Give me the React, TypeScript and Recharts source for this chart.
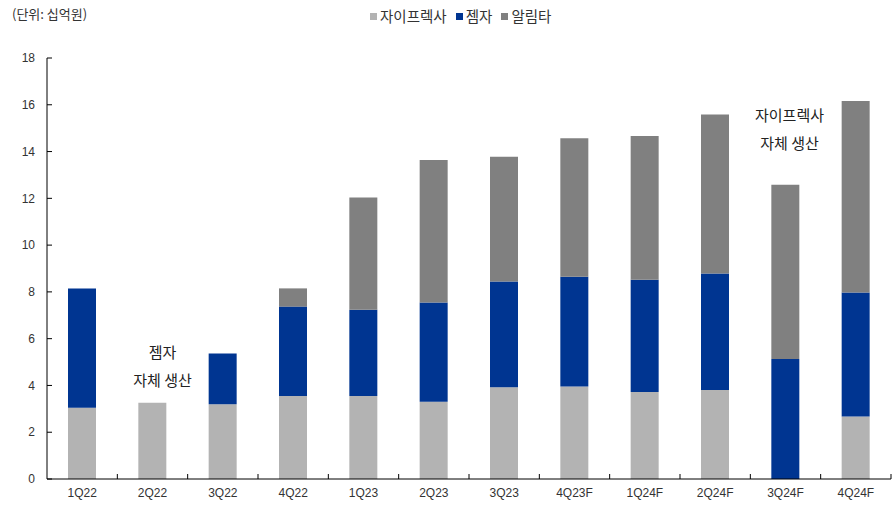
import React from 'react';
import { BarChart, Bar, XAxis, YAxis, ReferenceDot, Label } from 'recharts';

const categories = ['1Q22', '2Q22', '3Q22', '4Q22', '1Q23', '2Q23', '3Q23', '4Q23F', '1Q24F', '2Q24F', '3Q24F', '4Q24F'];
const zyprexa = [3.05, 3.26, 3.2, 3.55, 3.55, 3.3, 3.92, 3.95, 3.72, 3.8, 0, 2.67];
const gemzar = [5.1, 0, 2.17, 3.82, 3.69, 4.25, 4.52, 4.7, 4.8, 4.99, 5.13, 5.3];
const alimta = [0, 0, 0, 0.78, 4.8, 6.09, 5.34, 5.92, 6.14, 6.79, 7.45, 8.19];
const seriesNames = ['자이프렉사', '젬자', '알림타'];
const seriesColors = ['#b3b3b3', '#003591', '#808080'];
const yTicks = [0, 2, 4, 6, 8, 10, 12, 14, 16, 18];
const unitLabel = '(단위: 십억원)';

const WIDTH = 893;
const HEIGHT = 505;
const MARGIN = { top: 58, right: 2, bottom: 0, left: 0 };
const Y_WIDTH = 47;
const X_HEIGHT = 26;
const BAND = (WIDTH - MARGIN.left - MARGIN.right - Y_WIDTH) / categories.length;

const data = categories.map((c, i) => ({
  name: c,
  zyprexa: zyprexa[i],
  gemzar: gemzar[i],
  alimta: alimta[i],
}));

const NUM_FONT = '"Liberation Sans", Arial, sans-serif';
const KR_FONT = '"Noto Sans CJK KR", "Noto Sans", sans-serif';

const XTick = (props: any) => {
  const { x, y, payload } = props;
  const axisY = y - 9;
  return (
    <g>
      <line x1={x + BAND / 2} x2={x + BAND / 2} y1={axisY} y2={axisY - 5} stroke="#000" strokeWidth={1} />
      <text x={x} y={y} dy="0.71em" textAnchor="middle" fontSize={12} fill="#333" fontFamily={NUM_FONT}>
        {payload.value}
      </text>
    </g>
  );
};

const YTick = (props: any) => {
  const { x, y, payload } = props;
  return (
    <g>
      <line x1={x + 12} x2={x + 17} y1={y} y2={y} stroke="#000" strokeWidth={1} />
      <text x={x} y={y} dy="0.35em" textAnchor="end" fontSize={12} fill="#333" fontFamily={NUM_FONT}>
        {payload.value}
      </text>
    </g>
  );
};

const annStyle = { fontSize: 15, fill: '#222', fontFamily: KR_FONT } as any;

export default function App() {
  return (
    <div style={{ position: 'absolute', left: 0, top: 0, width: WIDTH, height: HEIGHT, background: '#fff' }}>
      <div
        style={{
          position: 'absolute',
          left: 12,
          top: 5,
          fontSize: 13,
          color: '#333',
          fontFamily: KR_FONT,
          lineHeight: '18px',
        }}
      >
        {unitLabel}
      </div>
      <div
        style={{
          position: 'absolute',
          left: 370,
          top: 6,
          display: 'flex',
          alignItems: 'center',
          fontSize: 14.5,
          color: '#333',
          fontFamily: KR_FONT,
          lineHeight: '20px',
          whiteSpace: 'nowrap',
        }}
      >
        {seriesNames.map((n, i) => (
          <span key={n} style={{ display: 'flex', alignItems: 'center', marginRight: 9 }}>
            <span style={{ display: 'inline-block', width: 7, height: 7, background: seriesColors[i], marginRight: 3 }} />
            {n}
          </span>
        ))}
      </div>
      <BarChart width={WIDTH} height={HEIGHT} data={data} margin={MARGIN} barCategoryGap={0}>
        <XAxis
          dataKey="name"
          height={X_HEIGHT}
          stroke="#000"
          tickLine={false}
          tickSize={0}
          tickMargin={9}
          tick={<XTick />}
          interval={0}
        />
        <YAxis
          width={Y_WIDTH}
          domain={[0, 18]}
          ticks={yTicks}
          stroke="#000"
          tickLine={false}
          tickSize={0}
          tickMargin={12}
          tick={<YTick />}
          interval={0}
        />
        <Bar dataKey="zyprexa" stackId="a" fill={seriesColors[0]} barSize={28} isAnimationActive={false} />
        <Bar dataKey="gemzar" stackId="a" fill={seriesColors[1]} barSize={28} isAnimationActive={false} />
        <Bar dataKey="alimta" stackId="a" fill={seriesColors[2]} barSize={28} isAnimationActive={false} />
        <ReferenceDot x="2Q22" y={5.4} r={0} fill="none" stroke="none">
          <Label value="젬자" position="center" dx={10} style={annStyle} />
        </ReferenceDot>
        <ReferenceDot x="2Q22" y={4.2} r={0} fill="none" stroke="none">
          <Label value="자체 생산" position="center" dx={10} style={annStyle} />
        </ReferenceDot>
        <ReferenceDot x="3Q24F" y={15.55} r={0} fill="none" stroke="none">
          <Label value="자이프렉사" position="center" dx={4} style={annStyle} />
        </ReferenceDot>
        <ReferenceDot x="3Q24F" y={14.35} r={0} fill="none" stroke="none">
          <Label value="자체 생산" position="center" dx={4} style={annStyle} />
        </ReferenceDot>
      </BarChart>
    </div>
  );
}
